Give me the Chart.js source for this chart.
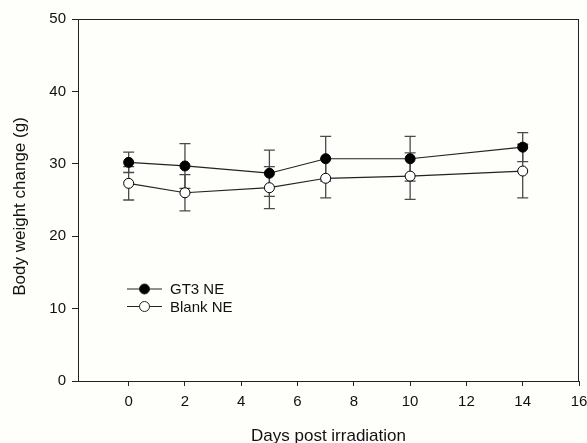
<!DOCTYPE html>
<html>
<head>
<meta charset="utf-8">
<script src="https://cdn.jsdelivr.net/npm/chart.js@4"></script>
<style>
  html, body { margin: 0; padding: 0; background: #fefefa; }
  #wrap { width: 587px; height: 443px; }
</style>
</head>
<body>
<div id="wrap"><canvas id="grafico" width="587" height="443"></canvas></div>
<script>
const dias = [0, 2, 5, 7, 10, 14];
const gt3 = [30.2, 29.7, 28.7, 30.7, 30.7, 32.3];
const gt3Sd = [1.4, 3.1, 3.2, 3.1, 3.1, 2.0];
const blank = [27.3, 26.0, 26.7, 28.0, 28.3, 29.0];
const blankSd = [2.3, 2.5, 2.9, 2.7, 3.2, 3.7];
const xTicks = [0, 2, 4, 6, 8, 10, 12, 14, 16];
const yTicks = [0, 10, 20, 30, 40, 50];
const fonte = '"Liberation Sans", Arial, sans-serif';

function pontos(ys) {
  return dias.map((d, i) => ({ x: d, y: ys[i] }));
}

const barrasErro = {
  id: 'barrasErro',
  beforeDatasetsDraw(chart) {
    const ctx = chart.ctx;
    const sx = chart.scales.x, sy = chart.scales.y;
    ctx.save();
    ctx.strokeStyle = '#4a4a4a';
    ctx.lineWidth = 1.3;
    [[gt3, gt3Sd], [blank, blankSd]].forEach(([ys, sds]) => {
      dias.forEach((d, i) => {
        const px = sx.getPixelForValue(d);
        const top = sy.getPixelForValue(ys[i] + sds[i]);
        const bot = sy.getPixelForValue(ys[i] - sds[i]);
        ctx.beginPath();
        ctx.moveTo(px, top); ctx.lineTo(px, bot);
        ctx.moveTo(px - 5.5, top); ctx.lineTo(px + 5.5, top);
        ctx.moveTo(px - 5.5, bot); ctx.lineTo(px + 5.5, bot);
        ctx.stroke();
      });
    });
    ctx.restore();
  },
  afterDraw(chart) {
    const ctx = chart.ctx;
    const a = chart.chartArea;
    ctx.save();
    ctx.strokeStyle = '#222';
    ctx.lineWidth = 1;
    ctx.strokeRect(a.left + 0.5, a.top + 0.5, a.right - a.left - 1, a.bottom - a.top);

    // legenda
    const itens = [['GT3 NE', '#000'], ['Blank NE', '#fff']];
    ctx.font = '15px ' + fonte;
    ctx.textBaseline = 'middle';
    itens.forEach(([nome, cor], i) => {
      const y = 289 + i * 17.5;
      ctx.strokeStyle = '#222';
      ctx.lineWidth = 1;
      ctx.beginPath(); ctx.moveTo(127, y); ctx.lineTo(162, y); ctx.stroke();
      ctx.beginPath(); ctx.arc(144.5, y, 5, 0, Math.PI * 2);
      ctx.fillStyle = cor; ctx.fill(); ctx.stroke();
      ctx.fillStyle = '#111';
      ctx.fillText(nome, 170, y + 1);
    });

    // titulos dos eixos
    ctx.fillStyle = '#111';
    ctx.font = '17px ' + fonte;
    ctx.textAlign = 'center';
    ctx.textBaseline = 'alphabetic';
    ctx.fillText('Days post irradiation', 328.5, 441);
    ctx.translate(25, 206.5);
    ctx.rotate(-Math.PI / 2);
    ctx.fillText('Body weight change (g)', 0, 0);
    ctx.restore();
  }
};

new Chart(document.getElementById('grafico'), {
  type: 'line',
  data: {
    datasets: [
      {
        label: 'GT3 NE',
        data: pontos(gt3),
        borderColor: '#222',
        borderWidth: 1.2,
        pointRadius: 5,
        pointBackgroundColor: '#000',
        pointBorderColor: '#000',
        pointBorderWidth: 1
      },
      {
        label: 'Blank NE',
        data: pontos(blank),
        borderColor: '#222',
        borderWidth: 1.2,
        pointRadius: 5,
        pointBackgroundColor: '#fff',
        pointBorderColor: '#000',
        pointBorderWidth: 1
      }
    ]
  },
  options: {
    responsive: false,
    animation: false,
    layout: { padding: { left: 0, right: 8, top: 19, bottom: 0 } },
    plugins: { legend: { display: false }, tooltip: { enabled: false } },
    scales: {
      x: {
        type: 'linear',
        min: -1.8,
        max: 16,
        afterBuildTicks: s => { s.ticks = xTicks.map(v => ({ value: v })); },
        afterFit: s => { s.height = 62; s.paddingLeft = 0; s.paddingRight = 0; },
        grid: { drawOnChartArea: false, tickLength: 5, color: '#222' },
        border: { display: false },
        ticks: { color: '#111', font: { family: fonte, size: 15 }, padding: 7, maxRotation: 0 }
      },
      y: {
        min: 0,
        max: 50,
        afterBuildTicks: s => { s.ticks = yTicks.map(v => ({ value: v })); },
        afterFit: s => { s.width = 78; s.paddingTop = 0; s.paddingBottom = 0; },
        grid: { drawOnChartArea: false, tickLength: 6, color: '#222' },
        border: { display: false },
        ticks: { color: '#111', font: { family: fonte, size: 15 }, padding: 6 }
      }
    }
  },
  plugins: [barrasErro]
});
</script>
</body>
</html>
